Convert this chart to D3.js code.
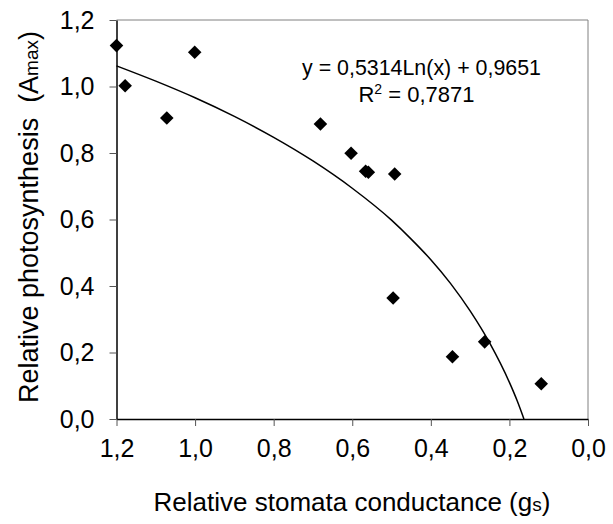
<!DOCTYPE html>
<html>
<head>
<meta charset="utf-8">
<script src="https://cdn.jsdelivr.net/npm/d3@7"></script>
<style>
  body { margin: 0; background: #fff; }
  text { font-family: Arial, "Liberation Sans", sans-serif; fill: #000; }
</style>
</head>
<body>
<div id="main-container"></div>
<script>
// measured points (relative conductance, relative photosynthesis)
const gsValues = [1.200, 1.178, 1.072, 1.001, 0.681, 0.603, 0.566, 0.559, 0.492, 0.496, 0.345, 0.263, 0.119];
const amaxValues = [1.123, 1.002, 0.905, 1.103, 0.887, 0.799, 0.745, 0.742, 0.737, 0.364, 0.187, 0.232, 0.106];

// trend line
const trendX = [1.2, 1.1, 1.0, 0.9, 0.8, 0.7, 0.6, 0.5, 0.45, 0.4, 0.35, 0.3, 0.25, 0.2, 0.18, 0.163];
const trendY = [1.062, 1.016, 0.966, 0.910, 0.847, 0.776, 0.694, 0.598, 0.541, 0.479, 0.408, 0.325, 0.228, 0.110, 0.054, 0.0];

const xTicks = [1.2, 1.0, 0.8, 0.6, 0.4, 0.2, 0.0];
const yTicks = [0.0, 0.2, 0.4, 0.6, 0.8, 1.0, 1.2];

const equationLines = ["y = 0,5314Ln(x) + 0,9651", "R", "2", " = 0,7871"];

const width = 613, height = 524;
const margin = { top: 20, right: 25, bottom: 105, left: 116.5 };

const svg = d3.select("#main-container")
    .append("svg")
    .attr("width", width)
    .attr("height", height);

const x = d3.scaleLinear().domain([1.2, 0]).range([margin.left, width - margin.right]);
const y = d3.scaleLinear().domain([0, 1.2]).range([height - margin.bottom, margin.top]);

const fmt = d => d3.format(".1f")(d).replace(".", ",");

// frame (top + right in grey)
svg.append("path")
    .attr("d", `M${x(1.2)},${y(1.2)}H${x(0)}V${y(0)}`)
    .attr("fill", "none")
    .attr("stroke", "#808080")
    .attr("stroke-width", 1);

// x axis
const xAxis = svg.append("g")
    .attr("transform", `translate(0,${y(0)})`)
    .call(d3.axisBottom(x).tickValues(xTicks).tickFormat(fmt).tickSize(7).tickPadding(13).tickSizeOuter(0));
xAxis.select(".domain").attr("stroke", "#000").attr("stroke-width", 1.5);
xAxis.selectAll(".tick line").attr("stroke", "#555");
xAxis.selectAll(".tick text").attr("font-size", 25).attr("fill", "#000");

// y axis
const yAxis = svg.append("g")
    .attr("transform", `translate(${x(1.2)},0)`)
    .call(d3.axisLeft(y).tickValues(yTicks).tickFormat(fmt).tickSize(7).tickPadding(15).tickSizeOuter(0));
yAxis.select(".domain").attr("stroke", "#000").attr("stroke-width", 1.5);
yAxis.selectAll(".tick line").attr("stroke", "#555");
yAxis.selectAll(".tick text").attr("font-size", 25).attr("fill", "#000");

// trend line
const line = d3.line()
    .x((d, i) => x(trendX[i]))
    .y(d => y(d))
    .curve(d3.curveMonotoneX);

svg.append("path")
    .datum(trendY)
    .attr("d", line)
    .attr("fill", "none")
    .attr("stroke", "#000")
    .attr("stroke-width", 1.5);

// points
const diamond = d3.symbol().type(d3.symbolSquare).size(92);
svg.selectAll(".pt")
    .data(gsValues)
    .join("path")
    .attr("class", "pt")
    .attr("d", diamond)
    .attr("transform", (d, i) => `translate(${x(d)},${y(amaxValues[i])}) rotate(45)`)
    .attr("fill", "#000");

// equation
svg.append("text")
    .attr("x", 302).attr("y", 75)
    .attr("font-size", 22)
    .attr("textLength", 239)
    .attr("lengthAdjust", "spacingAndGlyphs")
    .text(equationLines[0]);

const r2 = svg.append("text")
    .attr("x", 416.5).attr("y", 102)
    .attr("text-anchor", "middle")
    .attr("font-size", 22);
r2.append("tspan").text(equationLines[1]);
r2.append("tspan").attr("font-size", 14).attr("dy", -8).text(equationLines[2]);
r2.append("tspan").attr("dy", 8).attr("xml:space", "preserve").text(equationLines[3]);

// axis titles
const xt = svg.append("text")
    .attr("x", 352).attr("y", 511)
    .attr("text-anchor", "middle")
    .attr("font-size", 26);
xt.append("tspan").text("Relative stomata conductance (g");
xt.append("tspan").attr("font-size", 19).text("s");
xt.append("tspan").text(")");

const yt = svg.append("text")
    .attr("transform", `translate(38,217) rotate(-90)`)
    .attr("text-anchor", "middle")
    .attr("font-size", 27)
    .attr("xml:space", "preserve");
yt.append("tspan").text("Relative photosynthesis  (A");
yt.append("tspan").attr("font-size", 19).text("max");
yt.append("tspan").text(")");
</script>
</body>
</html>
